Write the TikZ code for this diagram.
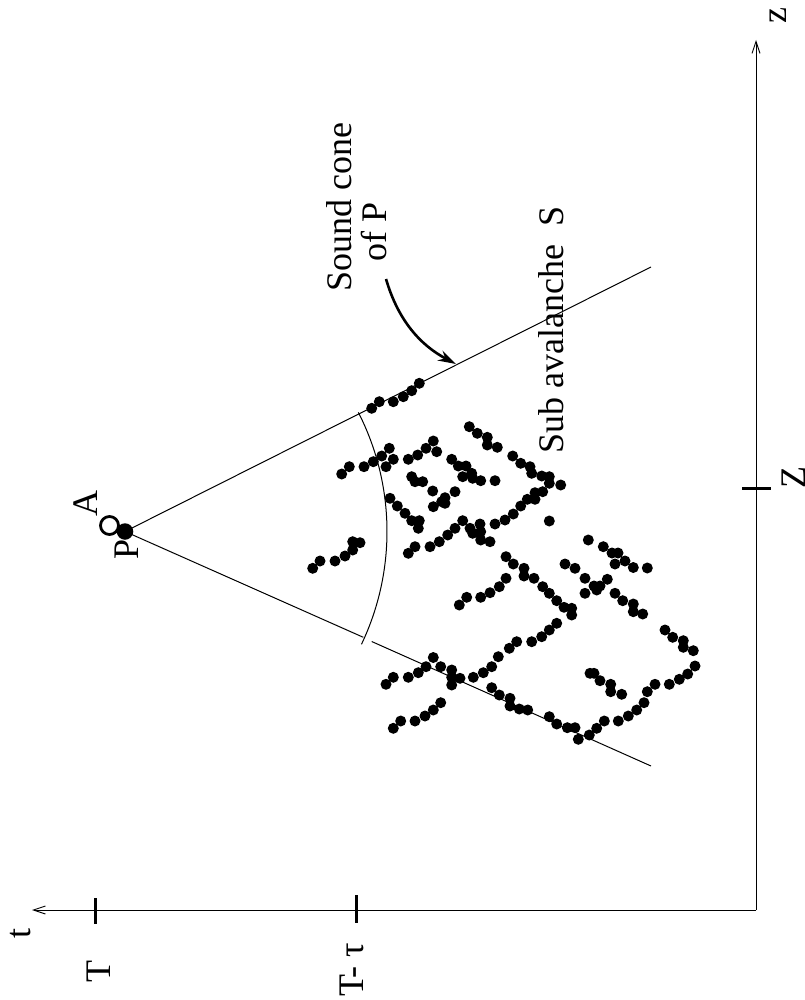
\documentclass[tikz,border=0pt]{standalone}
\usepackage{fontspec}
\setmainfont{Liberation Serif}
\usetikzlibrary{arrows.meta}
\begin{document}
\begin{tikzpicture}[x=1pt,y=-1pt,
  lbl/.style={rotate=90,anchor=base west,inner sep=0pt,font=\fontsize{36}{40}\selectfont},
  axisline/.style={line width=0.9pt,-{Straight Barb[length=12pt,width=8pt]}},
  tickmark/.style={line width=3pt},
  coneline/.style={line width=1pt},
  dotmark/.style={fill=black}]
\useasboundingbox (0,0) rectangle (804,1000);
% axes
\coordinate (O) at (756,910);
\coordinate (Zend) at (756,40);
\coordinate (Tend) at (32,910);
\draw[axisline] (O) -- (Zend);
\draw[axisline] (O) -- (Tend);
% ticks
\coordinate (T1) at (95.7,898); \coordinate (T2) at (95.7,924);
\coordinate (Tt1) at (356.7,895); \coordinate (Tt2) at (356.7,923);
\coordinate (Z1) at (742,488); \coordinate (Z2) at (771,488);
\draw[tickmark] (T1) -- (T2);
\draw[tickmark] (Tt1) -- (Tt2);
\draw[tickmark] (Z1) -- (Z2);
% axis labels
\node[lbl] (zlab) at (786,23.5) {z};
\node[lbl] (tlab) at (30.5,938.5) {t};
\node[lbl] (Tlab) at (110,982.5) {T};
\node[lbl] (Ttaulab) at (363.3,997) {T- τ};
\node[lbl] (Zlab) at (805,489) {Z};
% A and P
\node[circle,draw,line width=2.8pt,inner sep=0pt,minimum size=18pt] (A) at (109.5,525.5) {};
\node[circle,fill,inner sep=0pt,minimum size=16.5pt] (P) at (125,531.5) {};
\node[lbl] (Alab) at (97,517) {A};
\node[lbl] (Plab) at (138.5,560) {P};
% cone
\coordinate (U) at (651,267);
\coordinate (L1) at (363.3,637.3);
\coordinate (L2) at (371.7,641.5);
\coordinate (L) at (651,766);
\draw[coneline] (P.center) -- (U);
\draw[coneline] (P.center) -- (L1);
\draw[coneline] (L2) -- (L);
\draw[coneline] ([shift={(-27.05:262)}]P.center) arc[start angle=-27.05,end angle=25.5,radius=262];
% labels
\node[lbl] (sc1) at (351.5,292) {Sound cone};
\node[lbl] (sc2) at (386.5,262) {of P};
\node[lbl] (sub) at (563,454) {Sub avalanche\ \ S};
\coordinate (a1) at (386,279);
\coordinate (a2) at (456,364);
\draw[line width=2.6pt,-{Stealth[length=18pt,width=11pt]}] (a1) .. controls (398,320) and (420,345) .. (a2);
% dots
\foreach \x/\y in {
371.7/408.3,379.3/401.7,393.3/401.7,403.3/396.7,411.7/390.7,419.3/383.3,
341.7/474,349.3/466.7,364/466.7,373.3/461.7,381.7/456,389.3/448.3,393.3/459.3,386/466.7,
312.7/568.3,320/561,335/561,345/556,352.7/550,352.7/541.7,360/542.7,
390/498.3,397.3/506,405/513.3,411.7/520.7,419.3/520.7,418.3/528.3,415/546.7,408.3/553.3,
430/546.7,439.3/541.7,447.7/535,455/528.3,462.7/520.7,470/528.3,472.7/533.3,480/524,
480.7/531.7,480.7/540,490/541.7,495/524,505/520,513.3/514,520.7/506,527.3/499.3,535/499.3,
535/492.7,542.7/491.7,549.3/521,560.7/485,549.3/483.3,549.3/476.7,541.7/476,531.7/473.3,
530/466.7,520.7/463.3,512.7/456,497.3/447.3,487.3/445,487.3/437.3,477.3/433.3,469.3/426.7,
408.3/459.3,417.7/455,426/448.3,433.3/441,436.7/451.7,451.7/459.3,458.3/466,466/466,
462.7/476.7,471.7/473.3,472.7/478.3,480.7/480.7,495/480.7,411.7/476.7,415/481.7,422.7/481.7,
432.7/491,455/491.7,445/497.7,441.7/501.7,445/503.3,433.3/506.7,
506/556.7,513.3/564,524/568.3,524/576,534/578.3,542.7/586.7,549.3/593.3,556.7/600.7,
564/607.3,571.7/608.3,571.7/615,565/564,575/568.3,585/578.3,585/593.3,588.3/540,
506/578.3,499.3/586.7,490/592.7,480.7/597.3,466.7/597.3,459.3/605,556.7/623.3,549.3/630,
541.7/636.7,531.7/641.7,516.7/641.7,509.3/648.3,498.3/656.7,433.3/657.5,
603.3/546.7,612/553,618/553,615/564,625/561,633.3/567.5,647.3/568,594/586,600/586,
596.7/590,607.3/579.3,615/593.3,622.7/600.7,633.3/604,633.3/611.7,642.7/614,
491.7/666.7,483.3/672.7,473.3/677.3,460/678.3,451.7/670,451.7/677.3,451.7/685,440.7/666.7,
426/666.7,418.3/672.7,408.3/677.3,393.3/677.3,386/684.3,
491.7/687.7,499.3/695,510/698.3,510/706,519.3/709,527.7/710,549.3/716.7,556.7/724,
567.3/727.7,575/727.7,578.3/739.3,589.3/735,596.7/728.3,604.3/721,618.3/721,628.3/716,
636.7/710,644/702.7,647.3/691.7,655/684.3,669.3/684.3,679.3/679.3,687.7/674,695/666,
693.3/650.7,683.3/647.3,683.3/640.7,672.7/637.3,665/630,
590/673.3,594/673.3,600/680.7,610.7/684.3,610.7/691.7,621.7/694.3,
440.7/702.7,433.3/710,425/716,415/721,400.7/721,393.3/728.3}
  \fill[dotmark] (\x,\y) circle (5.5);
\end{tikzpicture}
\end{document}
